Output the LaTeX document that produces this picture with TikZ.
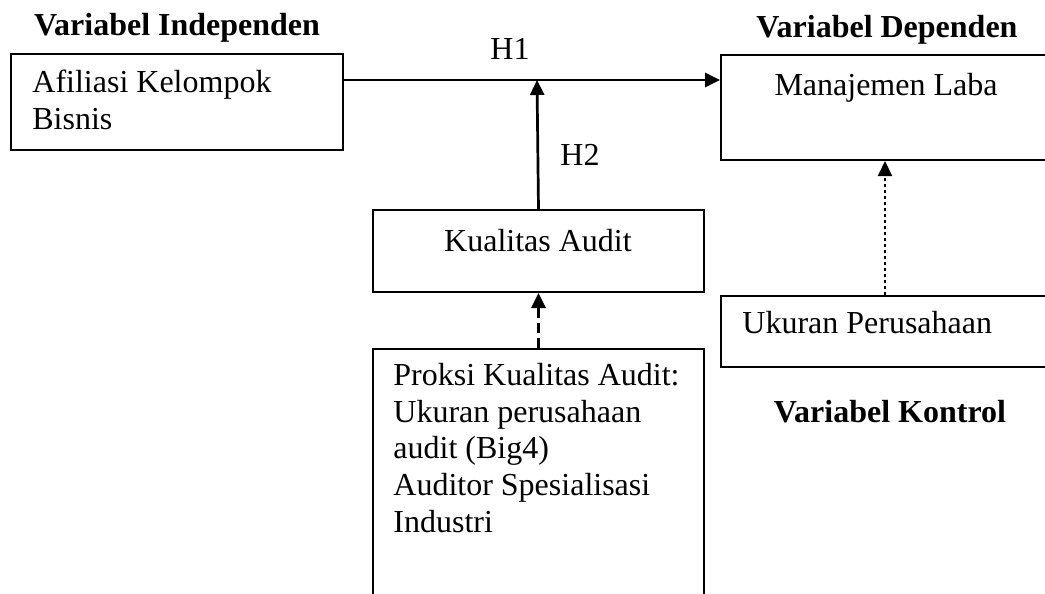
\documentclass[tikz,border=0pt]{standalone}
\usepackage{fontspec}
\setmainfont{Liberation Serif}
\usetikzlibrary{arrows.meta}
\tikzset{
  kotak/.style={draw, line width=1pt, inner sep=0pt, anchor=north west},
  teks/.style={inner sep=0pt, font=\fontsize{16}{18.3}\selectfont},
  judul/.style={inner sep=0pt, font=\fontsize{16}{18.3}\selectfont\bfseries},
  panah/.style={line width=1.35pt, -{Triangle[length=7.5pt,width=7pt]}},
}
\begin{document}
\begin{tikzpicture}[x=0.5pt,y=-0.5pt]
	\clip (0,0) rectangle (1045,594);
	
	% kotak variabel
	\node[kotak, minimum width=166pt, minimum height=48pt] (afiliasi) at (10,53) {};
	\node[kotak, minimum width=164pt, minimum height=52.5pt] (manajemen) at (720,54) {};
	\node[kotak, minimum width=165.5pt, minimum height=41pt] (kualitas) at (372,209) {};
	\node[kotak, minimum width=165.5pt, minimum height=131pt] (proksi) at (372,348) {};
	\node[kotak, minimum width=164pt, minimum height=35.5pt] (ukuran) at (720,295) {};
	
	% judul
	\node[judul, anchor=base] (judulind) at (177,35) {Variabel Independen};
	\node[judul, anchor=base] (juduldep) at (887,38) {Variabel Dependen};
	\node[judul, anchor=base] (judulkon) at (890,422) {Variabel Kontrol};
	
	% isi kotak
	\node[teks, anchor=north west, align=left] (tafiliasi) at (32,70) {Afiliasi Kelompok\\Bisnis};
	\node[teks, anchor=base] (tmanajemen) at (886,95) {Manajemen Laba};
	\node[teks, anchor=base] (tkualitas) at (538,251) {Kualitas Audit};
	\node[teks, anchor=base west] (tukuran) at (742,333) {Ukuran Perusahaan};
	\node[teks, anchor=north west, align=left] (tproksi) at (393,363)
		{Proksi Kualitas Audit:\\Ukuran perusahaan\\audit (Big4)\\Auditor Spesialisasi\\Industri};
	
	\node[teks, anchor=base] (h1) at (510,60) {H1};
	\node[teks, anchor=base] (h2) at (580,165) {H2};
	
	% panah
	\coordinate (temu) at (537,80);
	\draw[panah] (afiliasi.east |- temu) -- (manajemen.west |- temu);
	\draw[panah] (kualitas.north) -- (temu);
	\draw[panah, dash pattern=on 5pt off 2.5pt] (proksi.north) -- (kualitas.south);
	\draw[panah, line width=1pt, dash pattern=on 1.5pt off 1.5pt] (ukuran.north) -- (manajemen.south);
	
\end{tikzpicture}
\end{document}
